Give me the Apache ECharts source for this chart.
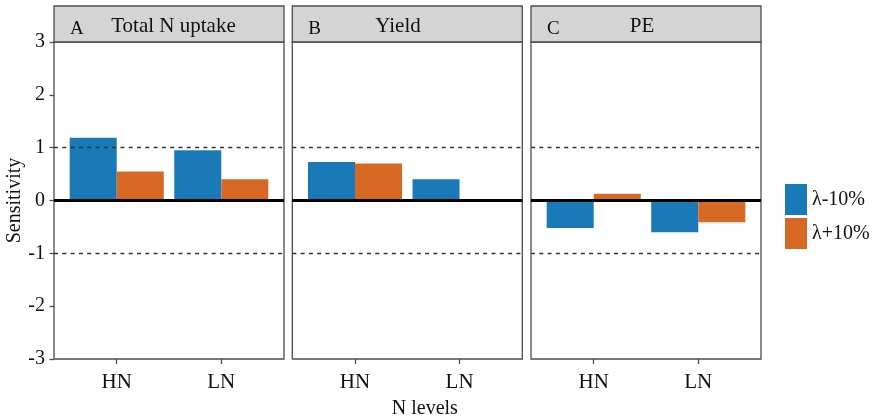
<!DOCTYPE html>
<html>
<head>
<meta charset="utf-8">
<script src="https://cdn.jsdelivr.net/npm/echarts@6/dist/echarts.min.js"></script>
<style>
  html, body { margin: 0; padding: 0; background: #fff; }
  #chart { width: 874px; height: 417px; }
</style>
</head>
<body>
<div id="chart"></div>
<script>
// N levels on the x axis of every panel
const categories = ['HN', 'LN'];
const panelLetters = ['A', 'B', 'C'];
const panelTitles = ['Total N uptake', 'Yield', 'PE'];
const seriesNames = ['λ-10%', 'λ+10%'];

// Sensitivity values, one array per panel and parameter change
const uptakeMinus = [1.19, 0.95];
const uptakePlus = [0.55, 0.40];
const yieldMinus = [0.73, 0.40];
const yieldPlus = [0.70, 0];
const peMinus = [-0.52, -0.60];
const pePlus = [0.13, -0.41];

const yMin = -3, yMax = 3, yStep = 1;
const refLines = [-1, 1];

const panelValues = [
  [uptakeMinus, uptakePlus],
  [yieldMinus, yieldPlus],
  [peMinus, pePlus]
];

const colors = ['#1a7ab8', '#d66824'];
const FONT = '"Liberation Serif", "Times New Roman", serif';
const FRAME = '#4d4d4d';

// panel geometry
const panelLeft = [54, 292.3, 531];
const panelWidth = 230;
const plotTop = 42;
const plotHeight = 317;
const stripTop = 6;
const stripHeight = 36;
const titleCenters = [173.5, 398, 642];

const grids = [], xAxes = [], yAxes = [], series = [], graphics = [];

panelLeft.forEach((left, i) => {
  grids.push({
    left: left, top: plotTop, width: panelWidth, height: plotHeight,
    outerBoundsMode: 'none', containLabel: false,
    show: true, borderColor: FRAME, borderWidth: 1.3, backgroundColor: '#fff'
  });
  xAxes.push({
    gridIndex: i, type: 'value', position: 'bottom', min: 0.4, max: categories.length + 0.6,
    axisLine: { show: false, onZero: false },
    splitLine: { show: false },
    axisTick: { show: true, customValues: categories.map((c, k) => k + 1), length: 5, lineStyle: { color: FRAME, width: 1.3 } },
    axisLabel: {
      customValues: categories.map((c, k) => k + 1),
      formatter: v => categories[Math.round(v) - 1] || '',
      fontFamily: FONT, fontSize: 21, color: '#111', margin: 13
    },
    name: i === 1 ? 'N levels' : '',
    nameLocation: 'middle', nameGap: 40,
    nameTextStyle: { fontFamily: FONT, fontSize: 20, color: '#111', padding: [0, 0, 0, 35] }
  });
  yAxes.push({
    gridIndex: i, type: 'value', min: yMin, max: yMax, interval: yStep,
    axisLine: { show: false },
    splitLine: { show: false },
    axisTick: { show: i === 0, length: 4.5, lineStyle: { color: FRAME, width: 1.3 } },
    axisLabel: { show: i === 0, fontFamily: FONT, fontSize: 20, color: '#111', margin: 9 },
    name: i === 0 ? 'Sensitivity' : '',
    nameLocation: 'middle', nameRotate: 90, nameGap: 27,
    nameTextStyle: { fontFamily: FONT, fontSize: 20, color: '#111' }
  });

  panelValues[i].forEach((vals, s) => {
    const ser = {
      type: 'bar', name: seriesNames[s],
      xAxisIndex: i, yAxisIndex: i,
      barWidth: '45%', barGap: '0%',
      itemStyle: { color: colors[s] },
      data: vals.map((v, k) => [k + 1, v]),
      animation: false
    };
    if (s === 1) {
      ser.markLine = {
        silent: true, symbol: ['none', 'none'], label: { show: false },
        animation: false,
        data: [
          ...refLines.map(v => ({ yAxis: v, lineStyle: { color: '#333', width: 1.3, type: [4, 4.3] } })),
          { yAxis: 0, lineStyle: { color: '#000', width: 3, type: 'solid' } }
        ]
      };
    }
    series.push(ser);
  });

  // strip header of the panel
  graphics.push({
    type: 'rect', z: 10,
    shape: { x: left, y: stripTop, width: panelWidth, height: stripHeight },
    style: { fill: '#d4d4d4', stroke: FRAME, lineWidth: 1.3 }
  });
  graphics.push({
    type: 'text', z: 11, x: left + 16, y: stripTop + 23,
    style: { text: panelLetters[i], font: '19px ' + FONT, fill: '#111', textVerticalAlign: 'middle' }
  });
  graphics.push({
    type: 'text', z: 11, x: titleCenters[i], y: stripTop + 20.5,
    style: { text: panelTitles[i], font: '21px ' + FONT, fill: '#111', textAlign: 'center', textVerticalAlign: 'middle' }
  });
});

const chart = echarts.init(document.getElementById('chart'), null, { renderer: 'canvas' });
chart.setOption({
  animation: false,
  backgroundColor: '#fff',
  grid: grids,
  xAxis: xAxes,
  yAxis: yAxes,
  series: series,
  legend: {
    data: seriesNames, orient: 'vertical', left: 785, top: 184,
    icon: 'rect', itemWidth: 22, itemHeight: 31, itemGap: 3, padding: 0,
    selectedMode: false,
    textStyle: { fontFamily: FONT, fontSize: 20, color: '#111' }
  },
  graphic: graphics
});
</script>
</body>
</html>
